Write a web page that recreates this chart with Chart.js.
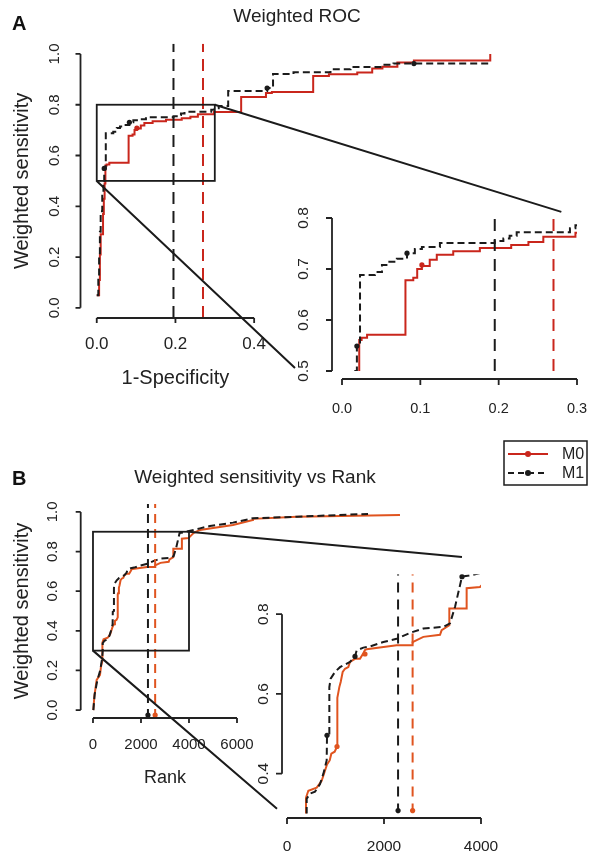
<!DOCTYPE html>
<html>
<head>
<meta charset="utf-8">
<title>Weighted ROC / Weighted sensitivity vs Rank</title>
<script src="https://cdn.jsdelivr.net/npm/chart.js@4.4.1/dist/chart.umd.min.js"></script>
<style>
  html, body { margin: 0; padding: 0; background: #fff; }
  #page { position: relative; width: 589px; height: 853px; overflow: hidden; }
  canvas { position: absolute; }
</style>
</head>
<body>
<div id="page">
  <canvas id="rocMain" width="520" height="400" style="left:0px;top:0px"></canvas>
  <canvas id="rocZoom" width="319" height="240" style="left:270px;top:190px"></canvas>
  <canvas id="rankMain" width="510" height="360" style="left:0px;top:440px"></canvas>
  <canvas id="rankZoom" width="349" height="313" style="left:240px;top:540px"></canvas>
  <canvas id="overlay" width="589" height="853" style="left:0px;top:0px"></canvas>
</div>
<script>
// values

const seriesNames = ['M0', 'M1'];

// panel A: weighted ROC, step curves (x = where the step happens, y = new level)
const fprM0 = [0, 0.006, 0.008, 0.010, 0.016, 0.018, 0.020, 0.022, 0.025, 0.032,
  0.081, 0.091, 0.096, 0.102, 0.112, 0.121, 0.142, 0.176, 0.216, 0.238,
  0.257, 0.298, 0.367, 0.430, 0.445, 0.550, 0.590, 0.662, 0.700, 0.726,
  0.764, 0.806, 1.000];
const rocSensM0 = [0.05, 0.11, 0.21, 0.29, 0.37, 0.43, 0.49, 0.561, 0.565, 0.571,
  0.678, 0.683, 0.700, 0.706, 0.718, 0.728, 0.735, 0.741, 0.747, 0.753,
  0.763, 0.771, 0.830, 0.846, 0.850, 0.913, 0.920, 0.927, 0.943, 0.950,
  0.966, 0.974, 1.000];
const fprM1 = [0, 0.004, 0.006, 0.008, 0.010, 0.014, 0.017, 0.019, 0.023, 0.042,
  0.051, 0.059, 0.070, 0.083, 0.093, 0.102, 0.125, 0.195, 0.206, 0.214,
  0.223, 0.291, 0.298, 0.310, 0.334, 0.433, 0.448, 0.500, 0.594, 0.645,
  0.721, 0.754, 1.000];
const rocSensM1 = [0.05, 0.12, 0.20, 0.30, 0.38, 0.45, 0.50, 0.549, 0.688, 0.694,
  0.708, 0.714, 0.720, 0.731, 0.739, 0.743, 0.751, 0.755, 0.760, 0.765,
  0.772, 0.780, 0.786, 0.795, 0.854, 0.866, 0.921, 0.928, 0.940, 0.949,
  0.957, 0.962, 0.962];
// marked points on the ROC curves
const rocDotFprM0 = [0.102];
const rocDotSensM0 = [0.708];
const rocDotFprM1 = [0.019, 0.083, 0.433, 0.806];
const rocDotSensM1 = [0.549, 0.731, 0.866, 0.962];
// cut-offs shown as dashed verticals (M0, M1)
const rocCutoffs = [0.27, 0.195];

// panel B: weighted sensitivity vs rank
const rankM0 = [15, 55, 153, 292, 333, 392, 392, 440, 612, 715,
  825, 880, 914, 983, 1031, 1031, 1045, 1079, 1107, 1148,
  1196, 1264, 1299, 1402, 1505, 1574, 1608, 1643, 2261, 2590,
  2590, 2811, 3155, 3189, 3347, 3347, 3704, 3704, 3979, 4200,
  4458, 5833, 6667, 6667, 8500, 12790];
const rankSensM0 = [0.0, 0.067, 0.152, 0.177, 0.219, 0.25, 0.34, 0.357, 0.365, 0.382,
  0.423, 0.433, 0.45, 0.455, 0.468, 0.584, 0.59, 0.617, 0.63, 0.655,
  0.663, 0.667, 0.68, 0.688, 0.688, 0.702, 0.71, 0.712, 0.722, 0.722,
  0.73, 0.743, 0.748, 0.76, 0.772, 0.814, 0.814, 0.865, 0.868, 0.895,
  0.909, 0.934, 0.96, 0.965, 0.976, 0.985];
const rankM1 = [15, 70, 180, 300, 380, 406, 406, 475, 578, 681,
  750, 818, 825, 873, 873, 900, 989, 1093, 1299, 1402,
  1436, 1574, 1711, 1986, 2261, 2536, 2811, 3223, 3361, 3464,
  3608, 3814, 4458, 4875, 5833, 6667, 8500, 11460];
const rankSensM1 = [0.0, 0.08, 0.15, 0.2, 0.26, 0.3, 0.337, 0.35, 0.355, 0.374,
  0.4, 0.433, 0.496, 0.5, 0.617, 0.638, 0.655, 0.667, 0.68, 0.694,
  0.709, 0.716, 0.719, 0.73, 0.738, 0.753, 0.764, 0.768, 0.777, 0.818,
  0.894, 0.898, 0.917, 0.929, 0.946, 0.968, 0.976, 0.99];
const rankDotM0 = [1031, 1608];
const rankDotSensM0 = [0.468, 0.70];
const rankDotM1 = [825, 1402, 3608];
const rankDotSensM1 = [0.496, 0.694, 0.894];
const rankCutoffs = [2590, 2290];

// tick labels
const rocXTicks = [0, 0.2, 0.4];
const sensTicks = [0, 0.2, 0.4, 0.6, 0.8, 1.0];
const rocZoomXTicks = [0, 0.1, 0.2, 0.3];
const rocZoomYTicks = [0.5, 0.6, 0.7, 0.8];
const rankTicks = [0, 2000, 4000, 6000];
const rankZoomXTicks = [0, 2000, 4000];
const rankZoomYTicks = [0.4, 0.6, 0.8];

// zoomed windows (boxes on the main plots = limits of the insets)
const rocWindowX = [0, 0.3];
const rocWindowY = [0.5, 0.8];
const rankWindowX = [0, 4000];
const rankWindowY = [0.3, 0.9];

// ---------------------------------------------------------------

const ink = '#222';
const redA = '#c9261c';
const redB = '#e0541f';
const black = '#1b1b1b';
const fam = '"Liberation Sans", Arial, Helvetica, sans-serif';

Chart.defaults.font.family = fam;
Chart.defaults.color = ink;

const pairs = (xs, ys) => xs.map((v, i) => ({ x: v, y: ys[i] }));
const oneDec = v => Number(v).toFixed(1);
const plain = v => String(v);

function curveSets(curves, dots, colors, stepped) {
  const sets = [];
  seriesNames.forEach((name, i) => {
    sets.push({
      label: name,
      data: pairs(curves[i][0], curves[i][1]),
      borderColor: colors[i],
      borderWidth: 2,
      borderDash: i ? [7, 4] : [],
      pointRadius: 0,
      stepped: stepped,
      tension: 0,
      order: i ? 2 : 3
    });
    if (dots) {
      sets.push({
        label: name + ' marks',
        data: pairs(dots[i][0], dots[i][1]),
        showLine: false,
        pointRadius: 2.6,
        pointBorderWidth: 0,
        pointBackgroundColor: colors[i],
        borderColor: colors[i],
        order: 1
      });
    }
  });
  return sets;
}

// R-like axes (line only between first and last tick), cut-off lines, zoom box
const rStyle = {
  id: 'rStyle',
  afterDatasetsDraw(chart, args, o) {
    const { ctx, chartArea: a, scales: { x, y } } = chart;
    ctx.save();
    ctx.beginPath();
    ctx.rect(a.left, a.top, a.right - a.left, a.bottom - a.top);
    ctx.clip();
    o.cuts.forEach((c, i) => {
      const px = x.getPixelForValue(c);
      ctx.strokeStyle = o.cutColors[i];
      ctx.lineWidth = 2;
      ctx.setLineDash(o.cutDash);
      ctx.beginPath();
      ctx.moveTo(px, a.bottom);
      ctx.lineTo(px, a.top);
      ctx.stroke();
      if (o.cutDots) {
        ctx.setLineDash([]);
        ctx.fillStyle = o.cutColors[i];
        ctx.beginPath();
        ctx.arc(px, a.bottom - 3, 2.6, 0, Math.PI * 2);
        ctx.fill();
      }
    });
    ctx.restore();

    if (o.box) {
      const x0 = x.getPixelForValue(o.box[0][0]), x1 = x.getPixelForValue(o.box[0][1]);
      const y0 = y.getPixelForValue(o.box[1][0]), y1 = y.getPixelForValue(o.box[1][1]);
      ctx.save();
      ctx.strokeStyle = black;
      ctx.lineWidth = 1.8;
      ctx.strokeRect(x0, y1, x1 - x0, y0 - y1);
      ctx.restore();
    }
  },
  afterDraw(chart, args, o) {
    const { ctx, chartArea: a, scales: { x, y } } = chart;
    const xs = x.ticks.map(t => t.value), ys = y.ticks.map(t => t.value);
    const yb = a.bottom + o.gapX, xl = a.left - o.gapY;
    ctx.save();
    ctx.strokeStyle = ink;
    ctx.lineWidth = 1.8;
    ctx.setLineDash([]);
    ctx.beginPath();
    ctx.moveTo(x.getPixelForValue(xs[0]), yb);
    ctx.lineTo(x.getPixelForValue(xs[xs.length - 1]), yb);
    xs.forEach(v => {
      const p = x.getPixelForValue(v);
      ctx.moveTo(p, yb);
      ctx.lineTo(p, yb + o.tick);
    });
    ctx.moveTo(xl, y.getPixelForValue(ys[0]));
    ctx.lineTo(xl, y.getPixelForValue(ys[ys.length - 1]));
    ys.forEach(v => {
      const p = y.getPixelForValue(v);
      ctx.moveTo(xl, p);
      ctx.lineTo(xl - o.tick, p);
    });
    ctx.stroke();
    ctx.fillStyle = ink;
    ctx.textAlign = 'center';
    ctx.textBaseline = 'middle';
    if (o.xTitle) {
      const mid = (x.getPixelForValue(xs[0]) + x.getPixelForValue(xs[xs.length - 1])) / 2;
      ctx.font = o.xTitleSize + 'px ' + fam;
      ctx.fillText(o.xTitle, mid, a.bottom + o.xTitleGap);
    }
    if (o.main) {
      // main title, placed as in the figure (slightly right of the plot centre)
      ctx.font = '19px ' + fam;
      ctx.fillText(o.main, (a.left + a.right) / 2 + o.mainShift, o.mainY);
    }
    ctx.restore();
  }
};

function zeroPad(s) {
  s.paddingLeft = 0; s.paddingRight = 0; s.paddingTop = 0; s.paddingBottom = 0;
}

function makePanel(id, o) {
  return new Chart(document.getElementById(id), {
    type: 'line',
    data: { datasets: o.datasets },
    options: {
      responsive: false,
      animation: false,
      events: [],
      layout: { padding: o.padding },
      plugins: {
        legend: { display: false },
        tooltip: { enabled: false },
        title: { display: false },
        rStyle: o.r
      },
      scales: {
        x: {
          type: 'linear', bounds: 'data', min: o.xRange[0], max: o.xRange[1],
          grid: { display: false, drawTicks: false }, border: { display: false },
          afterBuildTicks: s => { s.ticks = o.xTicks.map(v => ({ value: v })); },
          afterFit: s => { s.height = o.xHeight; zeroPad(s); },
          ticks: { autoSkip: false, padding: o.xPad, font: { size: o.xFont }, color: ink, callback: o.xFmt }
        },
        y: {
          type: 'linear', bounds: 'data', min: o.yRange[0], max: o.yRange[1],
          grid: { display: false, drawTicks: false }, border: { display: false },
          afterBuildTicks: s => { s.ticks = o.yTicks.map(v => ({ value: v })); },
          afterFit: s => { s.width = o.yWidth; zeroPad(s); },
          ticks: { autoSkip: false, padding: o.yPad, font: { size: o.yFont }, color: ink,
                   minRotation: 90, maxRotation: 90, crossAlign: 'center', callback: oneDec },
          title: o.yTitle || { display: false }
        }
      }
    },
    plugins: [rStyle]
  });
}

const rocCurves = [[fprM0, rocSensM0], [fprM1, rocSensM1]];
const rocDots = [[rocDotFprM0, rocDotSensM0], [rocDotFprM1, rocDotSensM1]];
const rankCurves = [[rankM0, rankSensM0], [rankM1, rankSensM1]];
const rankDots = [[rankDotM0, rankDotSensM0], [rankDotM1, rankDotSensM1]];

const sensTitle = {
  display: true, text: 'Weighted sensitivity', color: ink,
  font: { size: 20 }, padding: { top: 10, bottom: 0 }
};

const rocMain = makePanel('rocMain', {
  datasets: curveSets(rocCurves, rocDots, [redA, black], 'before'),
  padding: { left: 0, top: 43.8, right: 14, bottom: 0 },
  xRange: [-0.04, 1.04], yRange: [-0.04, 1.04],
  xTicks: rocXTicks, yTicks: sensTicks, xFmt: oneDec,
  xHeight: 82, yWidth: 81, xPad: 15.8, yPad: 15.6, xFont: 17, yFont: 15,
  yTitle: sensTitle,
  r: { cuts: rocCutoffs, cutColors: [redA, black], cutDash: [12, 7], cutDots: false,
       box: [rocWindowX, rocWindowY], gapX: 0, gapY: 0.5, tick: 5,
       xTitle: '1-Specificity', xTitleSize: 20, xTitleGap: 60,
       main: 'Weighted ROC', mainShift: 3.5, mainY: 17 }
});

const rocZoom = makePanel('rocZoom', {
  datasets: curveSets(rocCurves, rocDots, [redA, black], 'before'),
  padding: { left: 0, top: 28, right: 12, bottom: 0 },
  xRange: rocWindowX, yRange: rocWindowY,
  xTicks: rocZoomXTicks, yTicks: rocZoomYTicks, xFmt: oneDec,
  xHeight: 59, yWidth: 72, xPad: 29.3, yPad: 27.5, xFont: 14.5, yFont: 15.5,
  r: { cuts: rocCutoffs, cutColors: [redA, black], cutDash: [12, 8], cutDots: false,
       gapX: 8, gapY: 10, tick: 6 }
});

const rankMain = makePanel('rankMain', {
  datasets: curveSets(rankCurves, null, [redB, black], false),
  padding: { left: 0, top: 64, right: 97.5, bottom: 0 },
  xRange: [-512, 13312], yRange: [-0.04, 1.04],
  xTicks: rankTicks, yTicks: sensTicks, xFmt: plain,
  xHeight: 82, yWidth: 80.7, xPad: 18, yPad: 17.3, xFont: 15, yFont: 15,
  yTitle: sensTitle,
  r: { cuts: rankCutoffs, cutColors: [redB, black], cutDash: [9, 6], cutDots: true,
       box: [rankWindowX, rankWindowY], gapX: 0, gapY: 0, tick: 5,
       xTitle: 'Rank', xTitleSize: 18, xTitleGap: 60,
       main: 'Weighted sensitivity vs Rank', mainShift: 8.4, mainY: 38 }
});

const rankZoom = makePanel('rankZoom', {
  datasets: curveSets(rankCurves, rankDots, [redB, black], false),
  padding: { left: 0, top: 34.25, right: 108, bottom: 0 },
  xRange: rankWindowX, yRange: rankWindowY,
  xTicks: rankZoomXTicks, yTicks: rankZoomYTicks, xFmt: plain,
  xHeight: 39.5, yWidth: 47, xPad: 24.2, yPad: 12.2, xFont: 15.5, yFont: 15.5,
  r: { cuts: rankCutoffs, cutColors: [redB, black], cutDash: [10, 7], cutDots: true,
       gapX: 4.5, gapY: 5, tick: 6 }
});

// overlay: zoom connectors, legend, panel letters
const ov = document.getElementById('overlay').getContext('2d');

function pageXY(chart, xv, yv) {
  return [chart.canvas.offsetLeft + chart.scales.x.getPixelForValue(xv),
          chart.canvas.offsetTop + chart.scales.y.getPixelForValue(yv)];
}

function connect(main, zoom, links) {
  ov.save();
  ov.strokeStyle = black;
  ov.lineWidth = 2;
  ov.beginPath();
  links.forEach(([from, to]) => {
    const p = pageXY(main, from[0], from[1]);
    const q = pageXY(zoom, to[0], to[1]);
    ov.moveTo(p[0], p[1]);
    ov.lineTo(q[0], q[1]);
  });
  ov.stroke();
  ov.restore();
}

connect(rocMain, rocZoom, [
  [[rocWindowX[1], rocWindowY[1]], [0.28, 0.812]],
  [[rocWindowX[0], rocWindowY[0]], [-0.06, 0.506]]
]);
connect(rankMain, rankZoom, [
  [[rankWindowX[1], rankWindowY[1]], [3608, 0.943]],
  [[rankWindowX[0], rankWindowY[0]], [-206, 0.312]]
]);

// legend
(function drawLegend() {
  const colors = [redA, black];
  ov.save();
  ov.fillStyle = '#fff';
  ov.fillRect(504, 441, 83, 44);
  ov.strokeStyle = black;
  ov.lineWidth = 1.5;
  ov.strokeRect(504, 441, 83, 44);
  seriesNames.forEach((name, i) => {
    const yy = 454 + i * 19;
    ov.strokeStyle = colors[i];
    ov.lineWidth = 2;
    ov.setLineDash(i ? [6, 4] : []);
    ov.beginPath();
    ov.moveTo(508, yy);
    ov.lineTo(548, yy);
    ov.stroke();
    ov.setLineDash([]);
    ov.fillStyle = colors[i];
    ov.beginPath();
    ov.arc(528, yy, 3, 0, Math.PI * 2);
    ov.fill();
    ov.fillStyle = ink;
    ov.font = '16px ' + fam;
    ov.textAlign = 'left';
    ov.textBaseline = 'middle';
    ov.fillText(name, 562, yy + 1);
  });
  ov.restore();
})();

ov.fillStyle = '#111';
ov.font = 'bold 20px ' + fam;
ov.textAlign = 'left';
ov.textBaseline = 'middle';
ov.fillText('A', 12, 24);
ov.fillText('B', 12, 479);
</script>
</body>
</html>
